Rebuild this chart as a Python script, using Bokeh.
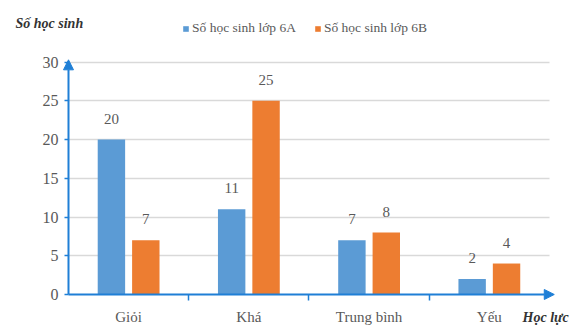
import numpy as np
from bokeh.plotting import figure
from bokeh.models import (Range1d, FixedTicker, ColumnDataSource, LabelSet, Label,
                          Arrow, NormalHead, Legend, LegendItem, LinearAxis)
from bokeh.embed import file_html
from bokeh.resources import INLINE

categories = ["Giỏi", "Khá", "Trung bình", "Yếu"]
series_names = ["Số học sinh lớp 6A", "Số học sinh lớp 6B"]
values_6a = [20, 11, 7, 2]
values_6b = [7, 25, 8, 4]
y_ticks = [0, 5, 10, 15, 20, 25, 30]
y_title = "Số học sinh"
x_title = "Học lực"

BLUE = "#5B9BD5"
ORANGE = "#ED7D31"
AXIS = "#1f7fd6"
TXT = "#595959"
GRID = "#d9d9d9"
FONT = "Liberation Serif"

centers = np.arange(len(categories)) + 0.5
off = 0.143
bw = 0.228

# the frame covers the whole canvas; axes are pinned at the data origin
p = figure(frame_width=579, frame_height=328, output_backend="svg", toolbar_location=None,
           title_location=None,
           x_range=Range1d(-0.5655, 4.2498), y_range=Range1d(-4.39, 37.96), min_border=0)
p.outline_line_color = None
p.grid.visible = False

# grid lines drawn by an axis of their own, beneath the bars
grid_axis = LinearAxis(fixed_location=0, ticker=FixedTicker(ticks=y_ticks[1:]),
                       major_tick_in=481, major_tick_out=0, major_tick_line_color=GRID,
                       major_tick_line_width=1.5, minor_tick_line_color=None,
                       axis_line_color=None, major_label_text_alpha=0, level="underlay")
p.add_layout(grid_axis, "left")

src_a = ColumnDataSource(dict(x=centers - off, top=values_6a, lab=[str(v) for v in values_6a]))
src_b = ColumnDataSource(dict(x=centers + off, top=values_6b, lab=[str(v) for v in values_6b]))
ra = p.vbar(x="x", top="top", width=bw, bottom=0, source=src_a, fill_color=BLUE, line_color=None)
rb = p.vbar(x="x", top="top", width=bw, bottom=0, source=src_b, fill_color=ORANGE, line_color=None)

for s in (src_a, src_b):
    p.add_layout(LabelSet(x="x", y="top", text="lab", source=s, y_offset=16,
                          text_align="center", text_baseline="bottom",
                          text_font=FONT, text_font_size="15px", text_color=TXT))

# x axis
xa = p.xaxis[0]
xa.fixed_location = 0
xa.ticker = FixedTicker(ticks=list(centers), minor_ticks=[1, 2, 3])
xa.major_label_overrides = {float(c): n for c, n in zip(centers, categories)}
xa.major_tick_line_color = None
xa.major_tick_out = 0
xa.major_tick_in = 0
xa.minor_tick_out = 6
xa.minor_tick_in = 0
xa.minor_tick_line_color = AXIS
xa.minor_tick_line_width = 1.5
xa.axis_line_color = None
xa.major_label_standoff = 9
xa.major_label_text_font = FONT
xa.major_label_text_font_size = "15px"
xa.major_label_text_color = TXT

# y axis
ya = p.yaxis[0]
ya.fixed_location = 0
ya.ticker = FixedTicker(ticks=y_ticks)
ya.minor_tick_line_color = None
ya.major_tick_out = 4
ya.major_tick_in = 0
ya.major_tick_line_color = AXIS
ya.major_tick_line_width = 1.5
ya.axis_line_color = None
ya.major_label_standoff = 6
ya.major_label_text_font = FONT
ya.major_label_text_font_size = "16px"
ya.major_label_text_color = TXT

# axis lines with arrow heads
p.add_layout(Arrow(end=NormalHead(size=10, fill_color=AXIS, line_color=AXIS),
                   x_start=0, y_start=0, x_end=0, y_end=30.3,
                   line_color=AXIS, line_width=2))
p.add_layout(Arrow(end=NormalHead(size=10, fill_color=AXIS, line_color=AXIS),
                   x_start=0, y_start=0, x_end=4.04, y_end=0,
                   line_color=AXIS, line_width=2))

legend = Legend(items=[LegendItem(label=series_names[0], renderers=[ra]),
                       LegendItem(label=series_names[1], renderers=[rb])],
                orientation="horizontal", location=(182, 292),
                glyph_width=7, glyph_height=7, label_standoff=3, spacing=18,
                padding=0, margin=0, border_line_color=None, background_fill_alpha=0,
                label_text_font=FONT, label_text_font_size="13.5px", label_text_color=TXT,
                label_height=16)
p.add_layout(legend, "center")

p.add_layout(Label(x=-0.4408, y=35.0, text=y_title, text_baseline="middle",
                   text_font=FONT, text_font_size="14px", text_font_style="bold italic",
                   text_color="#333333"))
p.add_layout(Label(x=3.776, y=-2.97, text=x_title, text_baseline="middle",
                   text_font=FONT, text_font_size="14px", text_font_style="bold italic",
                   text_color="#333333"))

open("out.html", "w").write(file_html(p, INLINE))
